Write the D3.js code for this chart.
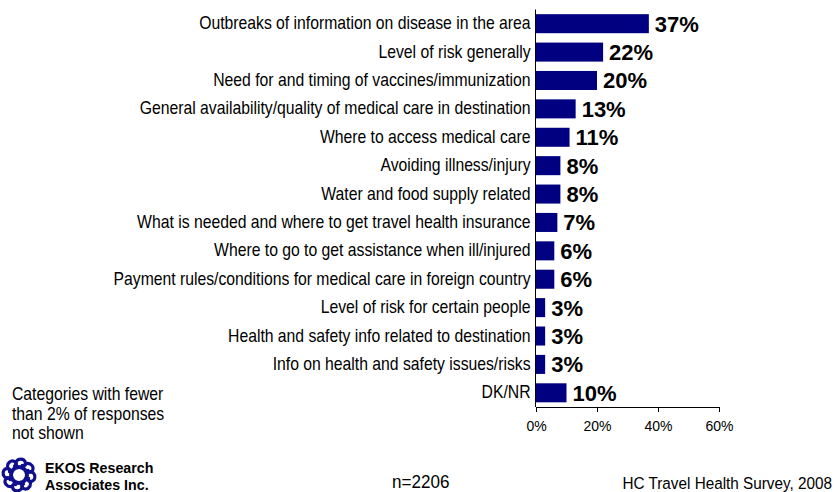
<!DOCTYPE html>
<html>
<head>
<meta charset="utf-8">
<script src="https://cdn.jsdelivr.net/npm/d3@7"></script>
<style>
  body { margin: 0; background: #fff; }
  svg { display: block; font-family: Arial, "Liberation Sans", sans-serif; }
</style>
</head>
<body>
<svg id="chart" width="840" height="492"></svg>
<script>
// Survey responses: information travellers want (percent of respondents)
const categories = [
  "Outbreaks of information on disease in the area",
  "Level of risk generally",
  "Need for and timing of vaccines/immunization",
  "General availability/quality of medical care in destination",
  "Where to access medical care",
  "Avoiding illness/injury",
  "Water and food supply related",
  "What is needed and where to get travel health insurance",
  "Where to go to get assistance when ill/injured",
  "Payment rules/conditions for medical care in foreign country",
  "Level of risk for certain people",
  "Health and safety info related to destination",
  "Info on health and safety issues/risks",
  "DK/NR"
];
const values = [37, 22, 20, 13, 11, 8, 8, 7, 6, 6, 3, 3, 3, 10];
const tickValues = [0, 20, 40, 60];
const noteLines = ["Categories with fewer", "than 2% of responses", "not shown"];
const logoLines = ["EKOS Research", "Associates Inc."];
const sampleNote = "n=2206";
const sourceNote = "HC Travel Health Survey, 2008";

const svg = d3.select("#chart");
const barColor = "#000080";
const logoColor = "#10108f";
const FONT = "Arial, 'Liberation Sans', sans-serif";
// body text is set slightly condensed
const SQUEEZE = 0.9;

const x = d3.scaleLinear().domain([0, 60]).range([536, 719]);
const y = d3.scaleBand().domain(categories).range([9.5, 407]).paddingInner(0.33).paddingOuter(0.165);

// bars
svg.append("g").selectAll("rect")
  .data(values)
  .join("rect")
  .attr("x", x(0))
  .attr("y", (d, i) => y(categories[i]))
  .attr("width", d => x(d) - x(0))
  .attr("height", y.bandwidth())
  .attr("fill", barColor);

// value labels
svg.append("g").selectAll("text")
  .data(values)
  .join("text")
  .attr("x", d => x(d) + 6)
  .attr("y", (d, i) => y(categories[i]) + y.bandwidth() / 2)
  .attr("dy", "0.36em")
  .attr("font-size", 22)
  .attr("font-weight", "bold")
  .attr("fill", "#000")
  .text(d => d + "%");

// category axis
const yAxis = svg.append("g")
  .attr("transform", `translate(${x(0) - 0.5},0)`)
  .call(d3.axisLeft(y).tickSize(0).tickPadding(5.5));
yAxis.select(".domain").attr("stroke", "#000").attr("d", "M0,9.5V407");
yAxis.selectAll("text")
  .attr("font-size", 17.5).attr("fill", "#000").attr("font-family", FONT)
  .attr("transform", `scale(${SQUEEZE},1)`);

// value axis
const xAxis = svg.append("g")
  .attr("transform", "translate(0,407)")
  .call(d3.axisBottom(x).tickValues(tickValues).tickFormat(d => d + "%").tickSize(5).tickSizeOuter(0).tickPadding(9));
xAxis.select(".domain").attr("stroke", "#000");
xAxis.selectAll(".tick line").attr("stroke", "#000");
xAxis.selectAll("text").attr("font-size", 14).attr("fill", "#000").attr("font-family", FONT);

// helper for condensed plain text
function squeezed(parent, tx, ty, str, size, anchor, weight, sq) {
  return parent.append("text")
    .attr("transform", `translate(${tx},${ty}) scale(${sq},1)`)
    .attr("text-anchor", anchor || "start")
    .attr("font-size", size)
    .attr("font-weight", weight || "normal")
    .attr("fill", "#000")
    .text(str);
}

// footnote on the left
const notes = svg.append("g");
noteLines.forEach((t, i) => squeezed(notes, 12, 400 + i * 19.5, t, 17.5, "start", "normal", SQUEEZE));

// EKOS logo: ring of curled blue hooks
const logo = svg.append("g").attr("transform", "translate(19,475)");
logo.append("circle").attr("r", 8).attr("fill", "none").attr("stroke", logoColor).attr("stroke-width", 4);
d3.range(8).forEach(k => {
  logo.append("path")
    .attr("transform", `rotate(${k * 45 + 10})`)
    .attr("d", "M7,-3 Q12,-8 15.5,-2.5 Q17.5,3 12.5,4.5 Q9.5,5 10,1.5")
    .attr("fill", "none")
    .attr("stroke", logoColor)
    .attr("stroke-width", 3.2)
    .attr("stroke-linecap", "round");
});

const logoText = svg.append("g");
logoLines.forEach((t, i) => squeezed(logoText, 45, 473 + i * 16.5, t, 15, "start", "bold", 0.95));

// sample size and source
squeezed(svg, 392, 488, sampleNote, 18, "start", "normal", 0.95);
squeezed(svg, 832, 489, sourceNote, 17, "end", "normal", SQUEEZE);
</script>
</body>
</html>
